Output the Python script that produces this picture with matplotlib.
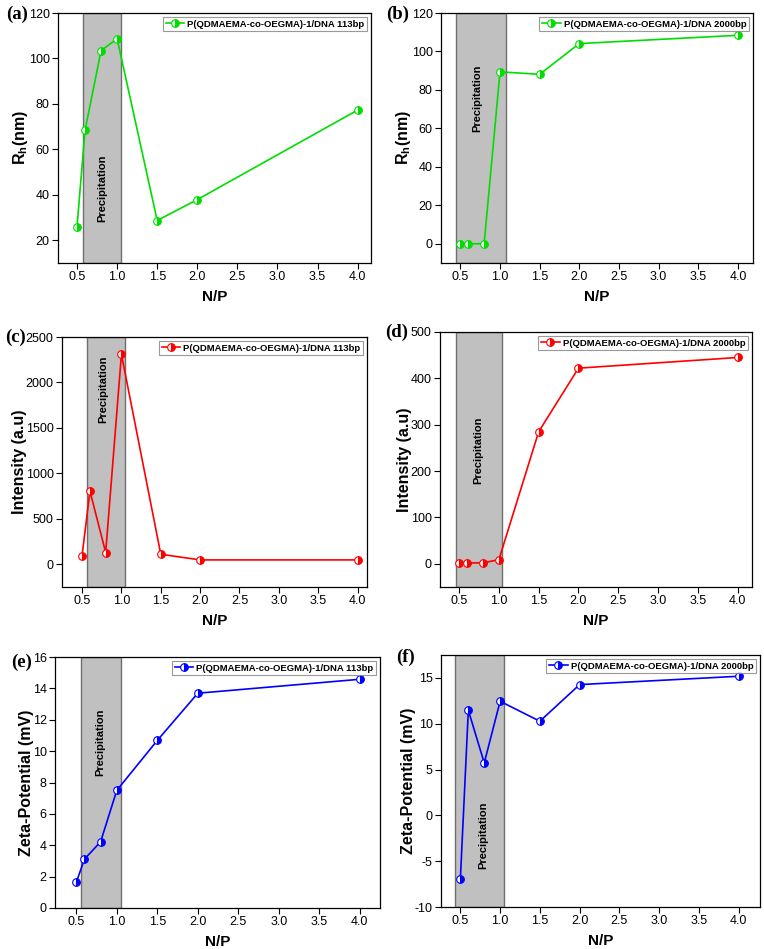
import matplotlib
matplotlib.use("Agg")
import matplotlib.pyplot as plt
import numpy as np

plt.rcParams['font.family'] = ['Liberation Sans', 'DejaVu Sans']
plt.rcParams['mathtext.fontset'] = 'custom'
plt.rcParams['mathtext.rm'] = 'Liberation Sans'
plt.rcParams['mathtext.bf'] = 'Liberation Sans:bold'

np_ratio = [0.5, 0.6, 0.8, 1.0, 1.5, 2.0, 4.0]

rh_113 = [25.9, 68.4, 103.4, 108.7, 28.7, 37.9, 77.3]
rh_2000 = [0.0, 0.0, 0.0, 89.4, 88.1, 104.1, 108.4]
int_113 = [96, 805, 129, 2309, 110, 48, 48]
int_2000 = [2, 2, 2, 9, 285, 422, 445]
zeta_113 = [1.63, 3.11, 4.22, 7.5, 10.68, 13.69, 14.58]
zeta_2000 = [-6.9, 11.47, 5.72, 12.45, 10.27, 14.27, 15.18]

legend_113 = "P(QDMAEMA-co-OEGMA)-1/DNA 113bp"
legend_2000 = "P(QDMAEMA-co-OEGMA)-1/DNA 2000bp"
panel_labels = ["(a)", "(b)", "(c)", "(d)", "(e)", "(f)"]
ylabels = [r"$\mathbf{R_h}$(nm)", r"$\mathbf{R_h}$(nm)", "Intensity (a.u)", "Intensity (a.u)",
           "Zeta-Potential (mV)", "Zeta-Potential (mV)"]

W, H = 764, 949
fig = plt.figure(figsize=(W / 100, H / 100), dpi=100)

# pixel boxes: left, right, top, bottom
boxes = [
    (58, 371, 13, 263),
    (441, 753, 13, 263),
    (62, 367, 337, 587),
    (440, 752, 332, 587),
    (55, 380, 657, 908),
    (441, 760, 655, 907),
]
# panel label positions (pixels, left/top)
label_pos = [(6, 6), (386, 6), (5, 329), (385, 324), (11, 654), (396, 649)]

panels = [
    dict(y=rh_113, c='#00dd00', leg=legend_113, ylim=(10, 120), yt=np.arange(20, 121, 20),
         xlim=(0.263, 4.166), shade=(0.571, 1.053), txt=(0.81, 42.7)),
    dict(y=rh_2000, c='#00dd00', leg=legend_2000, ylim=(-10, 120), yt=np.arange(0, 121, 20),
         xlim=(0.256, 4.19), shade=(0.45, 1.07), txt=(0.71, 75.8)),
    dict(y=int_113, c='#ff0000', leg=legend_113, ylim=(-250, 2500), yt=np.arange(0, 2501, 500),
         xlim=(0.245, 4.12), shade=(0.564, 1.05), txt=(0.77, 1930)),
    dict(y=int_2000, c='#ff0000', leg=legend_2000, ylim=(-50, 500), yt=np.arange(0, 501, 100),
         xlim=(0.26, 4.18), shade=(0.46, 1.04), txt=(0.74, 246)),
    dict(y=zeta_113, c='#0000ff', leg=legend_113, ylim=(0, 16), yt=np.arange(0, 17, 2),
         xlim=(0.237, 4.25), shade=(0.562, 1.056), txt=(0.79, 10.55)),
    dict(y=zeta_2000, c='#0000ff', leg=legend_2000, ylim=(-10, 17.5), yt=np.arange(-10, 16, 5),
         xlim=(0.256, 4.27), shade=(0.43, 1.05), txt=(0.79, -2.2)),
]

for i, (box, p) in enumerate(zip(boxes, panels)):
    l, r, t, b = box
    ax = fig.add_axes([l / W, 1 - b / H, (r - l) / W, (b - t) / H])
    ax.axvspan(p['shade'][0], p['shade'][1], facecolor='#c0c0c0', edgecolor='#6f6f6f', lw=1.0, zorder=1)
    ax.plot(np_ratio, p['y'], color=p['c'], lw=1.2, marker='o', ms=5.5, fillstyle='right',
            markerfacecolor=p['c'], markerfacecoloralt='white', markeredgecolor=p['c'],
            markeredgewidth=0.8, label=p['leg'], zorder=3)
    ax.text(p['txt'][0], p['txt'][1], "Precipitation", rotation=90, ha='center', va='center',
            fontsize=8, fontweight='bold', zorder=4)
    ax.set_xlim(*p['xlim'])
    ax.set_ylim(*p['ylim'])
    ax.set_xticks(np.arange(0.5, 4.01, 0.5))
    ax.set_xticklabels([f"{v:.1f}" for v in np.arange(0.5, 4.01, 0.5)])
    ax.set_yticks(p['yt'])
    ax.set_yticklabels([f"{int(v)}" for v in p['yt']])
    ax.tick_params(direction='out', length=4, width=0.8, labelsize=9, colors='black', pad=2)
    for s in ax.spines.values():
        s.set_linewidth(0.9)
    ax.set_xlabel("N/P", fontsize=11, fontweight='bold', labelpad=5)
    ax.set_ylabel(ylabels[i], fontsize=11.5, fontweight='bold', labelpad=-1)
    leg = ax.legend(loc='upper right', frameon=True, fancybox=False,
                    edgecolor='#808080', handlelength=2.0, handletextpad=0.3,
                    borderpad=0.3, borderaxespad=0.4, prop={'weight': 'bold', 'size': 6.8})
    leg.get_frame().set_linewidth(0.8)
    lx, ly = label_pos[i]
    fig.text(lx / W, 1 - ly / H, panel_labels[i], fontsize=13.5, fontweight='bold',
             family='Liberation Serif', ha='left', va='top')

fig.savefig("out.png", dpi=100)
